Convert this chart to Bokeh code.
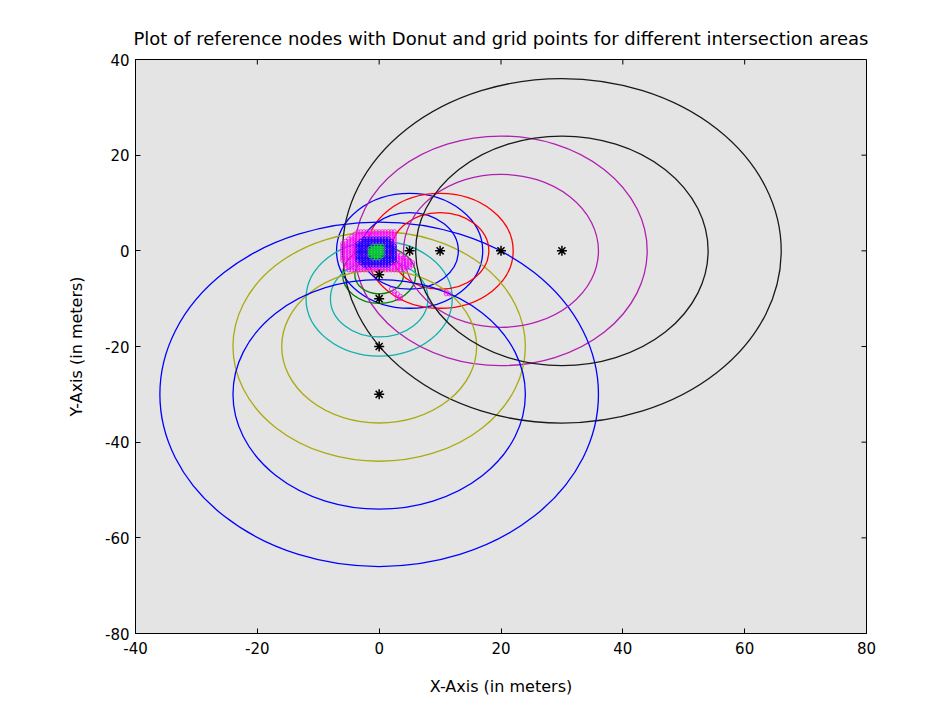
import numpy as np
from bokeh.plotting import figure
from bokeh.models import Range1d, FixedTicker, ColumnDataSource
from bokeh.embed import file_html
from bokeh.resources import INLINE

# ---- data ----
title_text = "Plot of reference nodes with Donut and grid points for different intersection areas"
x_ticks = [-40, -20, 0, 20, 40, 60, 80]
x_tick_labels = ["-40", "-20", "0", "20", "40", "60", "80"]
y_ticks = [-80, -60, -40, -20, 0, 20, 40]
y_tick_labels = ["-80", "-60", "-40", "-20", "0", "20", "40"]

node_x = [5, 0, 10, 0, 20, 0, 30, 0]
node_y = [0, -5, 0, -10, 0, -20, 0, -30]
r_inner = [8, 4, 8, 8, 16, 16, 24, 24]
r_outer = [12, 6, 12, 12, 24, 24, 36, 36]
node_colors = ["#0000FF", "#007F00", "#FF0000", "#10B0B0", "#B020B0", "#AAAA10", "#1A1A1A", "#0000FF"]

# grid points of intersection areas (rows: y, x from, x to; grid step 0.5 m)
grid_step = 0.5
mag_y = [4.0, 3.5, 3.0, 2.5, 2.0, 1.5, 1.0, 0.5, 0.0, -0.5, -1.0, -1.5, -2.0, -2.5, -3.0, -3.5, -4.0]
mag_x0 = [-3.5, -4, -4.5, -5, -5.5, -6, -6, -6, -6, -6, -6, -6, -6, -5.5, -5.5, -5.5, -5]
mag_x1 = [2.5, 2.5, 2.5, 2.5, 2.5, 2.5, 2.5, 2.5, 2.5, 3, 3.5, 4.5, 5, 5.5, 5.5, 5, 4]
mag_extra_x = [2, 2.5, 3, 3.5, 2.5, 3, 3.5, 11, 11.5, 11]
mag_extra_y = [-8, -8.5, -9, -9.5, -9, -10, -10, -8.5, -9, -9]

blue_y = [2.5, 2, 1.5, 1, 0.5, 0, -0.5, -1, -1.5, -2, -2.5, -3]
blue_x0 = [-2.5, -3, -3.5, -3.5, -3.5, -3.5, -3.5, -3.5, -3.5, -3.5, -3, -2.5]
blue_x1 = [1.5, 2, 2, 2.5, 2.5, 2.5, 2.5, 2.5, 2.5, 2.5, 2, 1.5]

green_y = [1, 0.5, 0, -0.5, -1, -1.5]
green_x0 = [-1, -1.5, -1.5, -1.5, -1.5, -1]
green_x1 = [0.5, 0.5, 0.5, 0.5, 0.5, 0]

X_MIN, X_MAX = -40, 80
Y_MIN, Y_MAX = -80, 40


def rows_to_points(ys, x0s, x1s, step):
    px, py = [], []
    for y, a, b in zip(ys, x0s, x1s):
        n = int(round((b - a) / step)) + 1
        for k in range(n):
            px.append(a + k * step)
            py.append(y)
    return px, py


FONT = "DejaVu Sans"

p = figure(width=933, height=698, x_range=Range1d(X_MIN, X_MAX), y_range=Range1d(Y_MIN, Y_MAX),
           output_backend="svg", toolbar_location=None, title=title_text,
           min_border_left=135, min_border_right=67, min_border_top=59, min_border_bottom=64)
p.background_fill_color = "#E4E4E4"
p.border_fill_color = "white"
p.outline_line_color = "#000000"
p.outline_line_width = 1
p.xgrid.visible = False
p.ygrid.visible = False

p.title.text_font = FONT
p.title.text_font_size = "18px"
p.title.text_font_style = "normal"
p.title.align = "center"
p.title.text_color = "#000000"
p.title.standoff = 22

for ax, ticks, labels in ((p.xaxis[0], x_ticks, x_tick_labels), (p.yaxis[0], y_ticks, y_tick_labels)):
    ax.ticker = FixedTicker(ticks=ticks)
    ax.major_label_overrides = {t: s for t, s in zip(ticks, labels)}
    ax.major_tick_in = 5
    ax.major_tick_out = 0
    ax.minor_tick_line_color = None
    ax.axis_line_color = "#000000"
    ax.major_tick_line_color = "#000000"
    ax.major_label_text_font = FONT
    ax.major_label_text_font_size = "15px"
    ax.major_label_text_color = "#000000"
    ax.axis_label_text_font = FONT
    ax.axis_label_text_font_size = "16px"
    ax.axis_label_text_font_style = "normal"
    ax.axis_label_text_color = "#000000"

p.xaxis[0].axis_label = "X-Axis (in meters)"
p.yaxis[0].axis_label = "Y-Axis (in meters)"
p.xaxis[0].major_label_standoff = 8
p.yaxis[0].major_label_standoff = 6
p.xaxis[0].axis_label_standoff = 20
p.yaxis[0].axis_label_standoff = 16

# ticks on top and right edges (inward, 5 px)
p.ray(x=x_ticks, y=[Y_MAX] * len(x_ticks), length=5, length_units="screen",
      angle=-np.pi / 2, line_color="#000000", line_width=1)
p.ray(x=[X_MAX] * len(y_ticks), y=y_ticks, length=5, length_units="screen",
      angle=np.pi, line_color="#000000", line_width=1)

# donut circles
src = ColumnDataSource(dict(x=node_x, y=node_y,
                            wi=[2 * r for r in r_inner], wo=[2 * r for r in r_outer],
                            c=node_colors))
p.ellipse(x="x", y="y", width="wo", height="wo", fill_color=None, line_color="c",
          line_width=1.3, source=src)
p.ellipse(x="x", y="y", width="wi", height="wi", fill_color=None, line_color="c",
          line_width=1.3, source=src)

# grid points
mx, my = rows_to_points(mag_y, mag_x0, mag_x1, grid_step)
mx += mag_extra_x
my += mag_extra_y
p.scatter(mx, my, marker="circle", size=4, fill_color=None, line_color="#FF00FF", line_width=0.8)
bx, by = rows_to_points(blue_y, blue_x0, blue_x1, grid_step)
p.scatter(bx, by, marker="circle", size=4, fill_color=None, line_color="#0000FF", line_width=0.8)
gx, gy = rows_to_points(green_y, green_x0, green_x1, grid_step)
p.scatter(gx, gy, marker="circle", size=4, fill_color=None, line_color="#00FF00", line_width=0.8)

# reference nodes
p.scatter(node_x, node_y, marker="asterisk", size=10, line_color="#000000", line_width=1.5)

open("out.html", "w").write(file_html(p, INLINE))
